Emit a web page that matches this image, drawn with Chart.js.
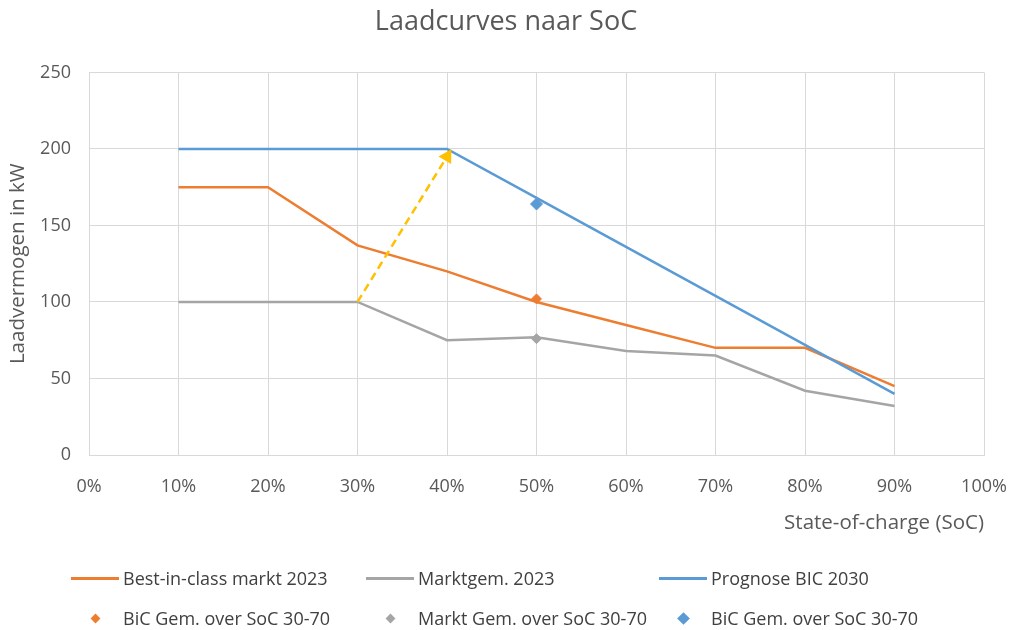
<!DOCTYPE html>
<html>
<head>
<meta charset="utf-8">
<script src="https://cdn.jsdelivr.net/npm/chart.js@4.4.1/dist/chart.umd.min.js"></script>
<style>
body{margin:0;background:#fff;}
#wrap{position:relative;width:1012px;height:630px;}
#legend{position:absolute;left:0;top:560px;width:1012px;height:70px;font-family:"Open Sans",sans-serif;font-size:18px;color:#404040;}
.item{position:absolute;white-space:nowrap;line-height:22px;}
.sym{position:absolute;}
</style>
</head>
<body>
<div id="wrap">
<canvas id="myChart" width="1012" height="630"></canvas>
<div id="legend"></div>
</div>
<script>
// state-of-charge (%) per point
var soc = [10, 20, 30, 40, 50, 60, 70, 80, 90];
var bicMarkt2023 = [175, 175, 137, 120, 100, 85, 70, 70, 45];
var marktGem2023 = [100, 100, 100, 75, 77, 68, 65, 42, 32];
var prognoseBic2030 = [200, 200, 200, 200, 168, 136, 104, 72, 40];

// averages over SoC 30-70, plotted at 50%
var gemSoc = [50];
var bicGem = [102];
var marktGem = [76];
var prognoseGem = [164];

// dashed arrow 100 kW -> 200 kW
var arrowSoc = [30, 40];
var arrowKw = [100, 195];

var lineNames = ['Best-in-class markt 2023', 'Marktgem. 2023', 'Prognose BIC 2030'];
var markerNames = ['BiC Gem. over SoC 30-70', 'Markt Gem. over SoC 30-70', 'BiC Gem. over SoC 30-70'];
var colors = ['#ED7D31', '#A5A5A5', '#5B9BD5'];

function toPoints(xs, ys) {
	var out = [];
	for (var i = 0; i < xs.length; i++) {
		out.push({x: xs[i], y: ys[i]});
	}
	return out;
}

var font = '"Open Sans", sans-serif';
var txt = '#595959';

const ctx = document.getElementById('myChart');

new Chart(ctx, {
	type: 'line',
	data: {
		datasets: [
			{label: markerNames[2], data: toPoints(gemSoc, prognoseGem), showLine: false, pointStyle: 'rectRot', pointRadius: 6, backgroundColor: colors[2], borderColor: colors[2], order: 0},
			{label: markerNames[0], data: toPoints(gemSoc, bicGem), showLine: false, pointStyle: 'rectRot', pointRadius: 5, backgroundColor: colors[0], borderColor: colors[0], order: 0},
			{label: markerNames[1], data: toPoints(gemSoc, marktGem), showLine: false, pointStyle: 'rectRot', pointRadius: 5, backgroundColor: colors[1], borderColor: colors[1], order: 0},
			{label: 'arrow', data: toPoints(arrowSoc, arrowKw), borderColor: '#FFC000', backgroundColor: '#FFC000', borderWidth: 2.5, borderDash: [8, 5],
				pointRadius: [0, 6], pointStyle: 'triangle', rotation: 31, order: 1},
			{label: lineNames[2], data: toPoints(soc, prognoseBic2030), borderColor: colors[2], borderWidth: 2.5, pointRadius: 0, order: 2},
			{label: lineNames[0], data: toPoints(soc, bicMarkt2023), borderColor: colors[0], borderWidth: 2.5, pointRadius: 0, order: 3},
			{label: lineNames[1], data: toPoints(soc, marktGem2023), borderColor: colors[1], borderWidth: 2.5, pointRadius: 0, order: 4}
		]
	},
	options: {
		responsive: false,
		animation: false,
		events: [],
		layout: {padding: {left: 0, right: 0, top: 0, bottom: 90}},
		plugins: {
			legend: {display: false},
			tooltip: {enabled: false},
			title: {
				display: true,
				text: 'Laadcurves naar SoC',
				color: txt,
				font: {family: font, size: 27, weight: 'normal'},
				padding: {top: 6, bottom: 34}
			}
		},
		scales: {
			x: {
				type: 'linear',
				min: 0,
				max: 100,
				ticks: {stepSize: 10, color: txt, font: {family: font, size: 18}, padding: 21,
					callback: function(v) { return v + '%'; }},
				grid: {color: '#D9D9D9', drawTicks: false},
				border: {color: '#D9D9D9'},
				title: {display: true, text: 'State-of-charge (SoC)', align: 'end', color: txt,
					font: {family: font, size: 20.5}, padding: {top: 0, bottom: 5}},
				afterFit: function(scale) {
					scale.height = 85;
					scale.paddingLeft = 0;
					scale.paddingRight = 28;
				}
			},
			y: {
				min: 0,
				max: 250,
				ticks: {stepSize: 50, color: txt, font: {family: font, size: 18}, padding: 18},
				grid: {color: '#D9D9D9', drawTicks: false},
				border: {color: '#D9D9D9'},
				title: {display: true, text: 'Laadvermogen in kW', color: txt,
					font: {family: font, size: 20.5}, padding: {top: 6, bottom: 0}},
				afterFit: function(scale) { scale.width = 89; }
			}
		}
	}
});

// legend below the chart, two rows of three
var colX = [123, 418, 711];
var legend = document.getElementById('legend');
for (var i = 0; i < 3; i++) {
	var it = document.createElement('div');
	it.className = 'item';
	it.style.left = colX[i] + 'px';
	it.style.top = '7px';
	it.textContent = lineNames[i];
	legend.appendChild(it);
	var ln = document.createElement('div');
	ln.className = 'sym';
	ln.style.left = (colX[i] - 52) + 'px';
	ln.style.top = '17px';
	ln.style.width = '48px';
	ln.style.height = '3px';
	ln.style.background = colors[i];
	legend.appendChild(ln);

	var it2 = document.createElement('div');
	it2.className = 'item';
	it2.style.left = colX[i] + 'px';
	it2.style.top = '47px';
	it2.textContent = markerNames[i];
	legend.appendChild(it2);
	var mk = document.createElement('div');
	mk.className = 'sym';
	var s = i == 2 ? 9 : 7;
	mk.style.width = s + 'px';
	mk.style.height = s + 'px';
	mk.style.left = (colX[i] - 28 - s / 2) + 'px';
	mk.style.top = (58 - s / 2) + 'px';
	mk.style.transform = 'rotate(45deg)';
	mk.style.background = colors[i];
	legend.appendChild(mk);
}
</script>
</body>
</html>
